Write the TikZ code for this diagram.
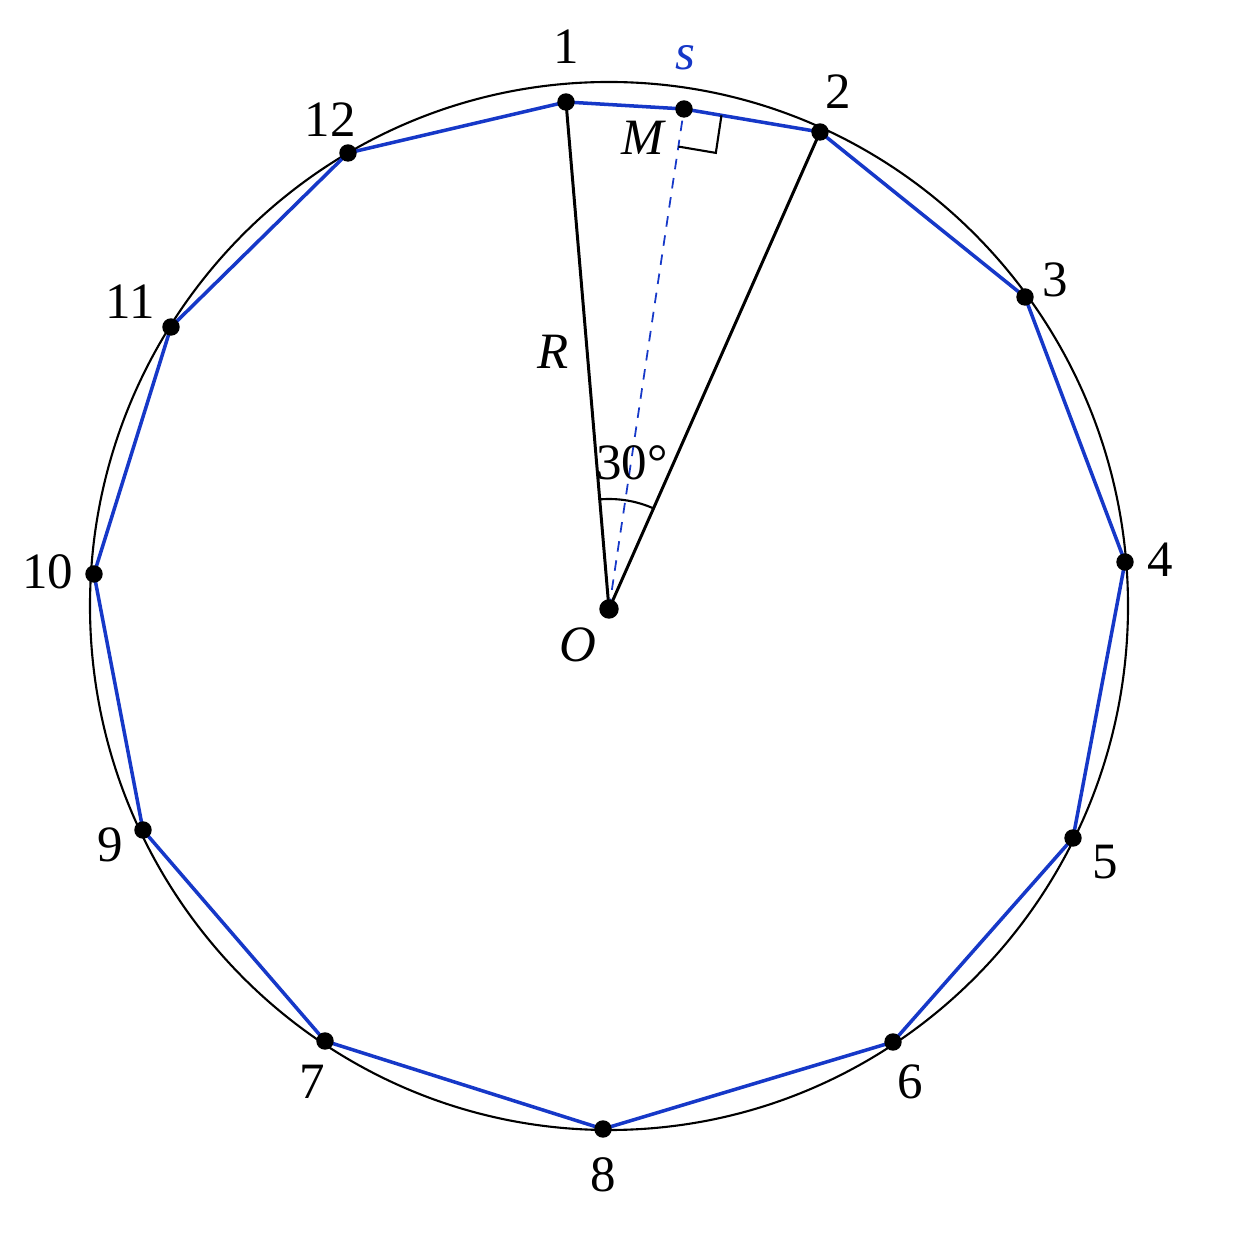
\documentclass[tikz,border=0pt]{standalone}
\usepackage{fontspec}
\setmainfont{Liberation Serif}
\usetikzlibrary{calc}
\definecolor{polyblue}{RGB}{22,56,200}

\begin{document}
\begin{tikzpicture}[lbl/.style={font=\fontsize{14.5}{16}\selectfont}]
    \def\r{0.08}
    \useasboundingbox (-6.09,-6.45) rectangle (6.45,6.09);
    \coordinate (O) at (0,0);
    \draw [black,line width=0.6pt] (0,0.03) ellipse [x radius=5.19, y radius=5.24];
    \foreach \i/\x/\y in {1/-0.43/5.07, 2/2.11/4.77, 3/4.16/3.12, 4/5.16/0.47,
                          5/4.64/-2.29, 6/2.84/-4.33, 7/-2.84/-4.32, 8/-0.06/-5.20,
                          9/-4.66/-2.21, 10/-5.15/0.35, 11/-4.38/2.82, 12/-2.61/4.56}
        \coordinate (p\i) at (\x,\y);
    \coordinate (M) at (0.75,5.00);
    \draw [polyblue,line width=1pt] (p1) -- (M) -- (p2) -- (p3) -- (p4) -- (p5) -- (p6)
        -- (p8) -- (p7) -- (p9) -- (p10) -- (p11) -- (p12) -- cycle;
    \draw [black,line width=0.85pt] (p1) -- (O) -- (p2);
    \draw [polyblue,line width=0.5pt,dash pattern=on 3pt off 2.5pt] (O) -- (M);
    \coordinate (A) at ($(M)!0.38cm!(p2)$);
    \coordinate (B) at ($(M)!0.38cm!(O)$);
    \draw [black,line width=0.6pt] (A) -- ($(A)+(B)-(M)$) -- (B);
    \draw [black,line width=0.6pt] (66.1:1.1) arc [start angle=66.1, end angle=94.85, radius=1.1];
    \foreach \i in {1,...,12}
        \filldraw [fill=black] (p\i) circle [radius=\r];
    \filldraw [fill=black] (M) circle [radius=\r];
    \filldraw [fill=black] (O) circle [radius=0.09];
    \foreach \i/\dx/\dy in {1/0/0.55, 2/0.18/0.40, 3/0.30/0.17, 4/0.35/0.02,
                            5/0.32/-0.24, 6/0.17/-0.40, 7/-0.13/-0.41, 8/0/-0.46,
                            9/-0.33/-0.15, 10/-0.46/0.02, 11/-0.41/0.25, 12/-0.18/0.33}
        \node [lbl] (l\i) at ([shift={(\dx,\dy)}]p\i) {\i};
    \node [lbl] (lO) at (-0.31,-0.36) {\textit{O}};
    \node [lbl] (lR) at (-0.56,2.57) {\textit{R}};
    \node [lbl] (lM) at (0.35,4.71) {\textit{M}};
    \node [lbl,text=polyblue] (ls) at (0.76,5.51) {\textit{s}};
    \node [lbl] (la) at (0.23,1.46) {30°};
\end{tikzpicture}
\end{document}
